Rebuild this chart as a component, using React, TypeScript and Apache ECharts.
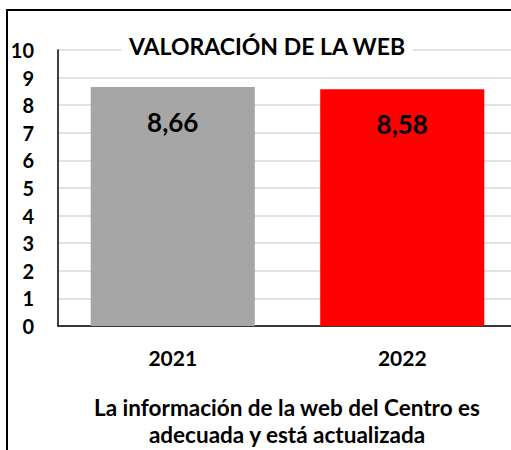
import React, { useEffect, useRef } from "react";
import * as echarts from "echarts";

const categories = ["2021", "2022"];
const values = [8.66, 8.58];
const barColors = ["#a6a6a6", "#ff0000"];
const yTicks = { min: 0, max: 10, interval: 1 };
const titleText = "VALORACIÓN DE LA WEB";
const axisTitleLines = ["La información de la web del Centro es", "adecuada y está actualizada"];

const FONT = "Lato";

export default function App() {
  const ref = useRef<HTMLDivElement>(null);
  useEffect(() => {
    if (!ref.current) return;
    const chart = echarts.init(ref.current, undefined, { renderer: "svg" });
    chart.setOption({
      animation: false,
      backgroundColor: "#ffffff",
      textStyle: { fontFamily: FONT },
      grid: {
        left: 58,
        top: 50,
        width: 459,
        bottom: 124,
        containLabel: false,
        outerBoundsMode: "none",
      },
      xAxis: {
        type: "category",
        data: categories,
        axisLine: { show: true, lineStyle: { color: "#000", width: 1.5 } },
        axisTick: { show: false },
        axisLabel: { color: "#000", fontWeight: "bold", fontSize: 21, fontFamily: FONT, margin: 21 },
      },
      yAxis: {
        type: "value",
        min: yTicks.min,
        max: yTicks.max,
        interval: yTicks.interval,
        axisLine: { show: true, lineStyle: { color: "#000", width: 1.5 } },
        axisTick: { show: false },
        splitLine: { show: true, lineStyle: { color: "#d9d9d9", width: 1.5 } },
        axisLabel: { color: "#000", fontWeight: "bold", fontSize: 20, fontFamily: FONT, margin: 24 },
      },
      series: [
        {
          type: "bar",
          data: values.map((v, i) => ({ value: v, itemStyle: { color: barColors[i] } })),
          barCategoryGap: "28.5%",
          label: {
            show: true,
            position: "insideTop",
            distance: 22,
            color: "#000",
            fontWeight: "bold",
            fontSize: 26,
            fontFamily: FONT,
            formatter: (p: any) => String(p.value.toFixed(2)).replace(".", ","),
          },
        },
      ],
      graphic: [
        {
          type: "rect",
          z: 100,
          shape: { x: 7, y: 10, width: 600, height: 500 },
          style: { fill: "none", stroke: "#000", lineWidth: 2 },
        },
        {
          type: "rect",
          z: 100,
          shape: { x: 121, y: 36, width: 292, height: 22 },
          style: { fill: "#fff" },
        },
        {
          type: "text",
          z: 101,
          x: 267,
          y: 46,
          style: {
            text: titleText,
            fontFamily: FONT,
            fontWeight: "bold",
            fontSize: 23,
            fill: "#000",
            align: "center",
            verticalAlign: "middle",
          },
        },
        {
          type: "text",
          z: 101,
          x: 287,
          y: 421,
          style: {
            text: axisTitleLines.join("\n"),
            fontFamily: FONT,
            fontWeight: "bold",
            fontSize: 22.5,
            lineHeight: 27,
            fill: "#000",
            align: "center",
            verticalAlign: "middle",
          },
        },
      ],
    });
    return () => chart.dispose();
  }, []);
  return (
    <div
      ref={ref}
      style={{ position: "fixed", left: 0, top: 0, width: 511, height: 450 }}
    />
  );
}
